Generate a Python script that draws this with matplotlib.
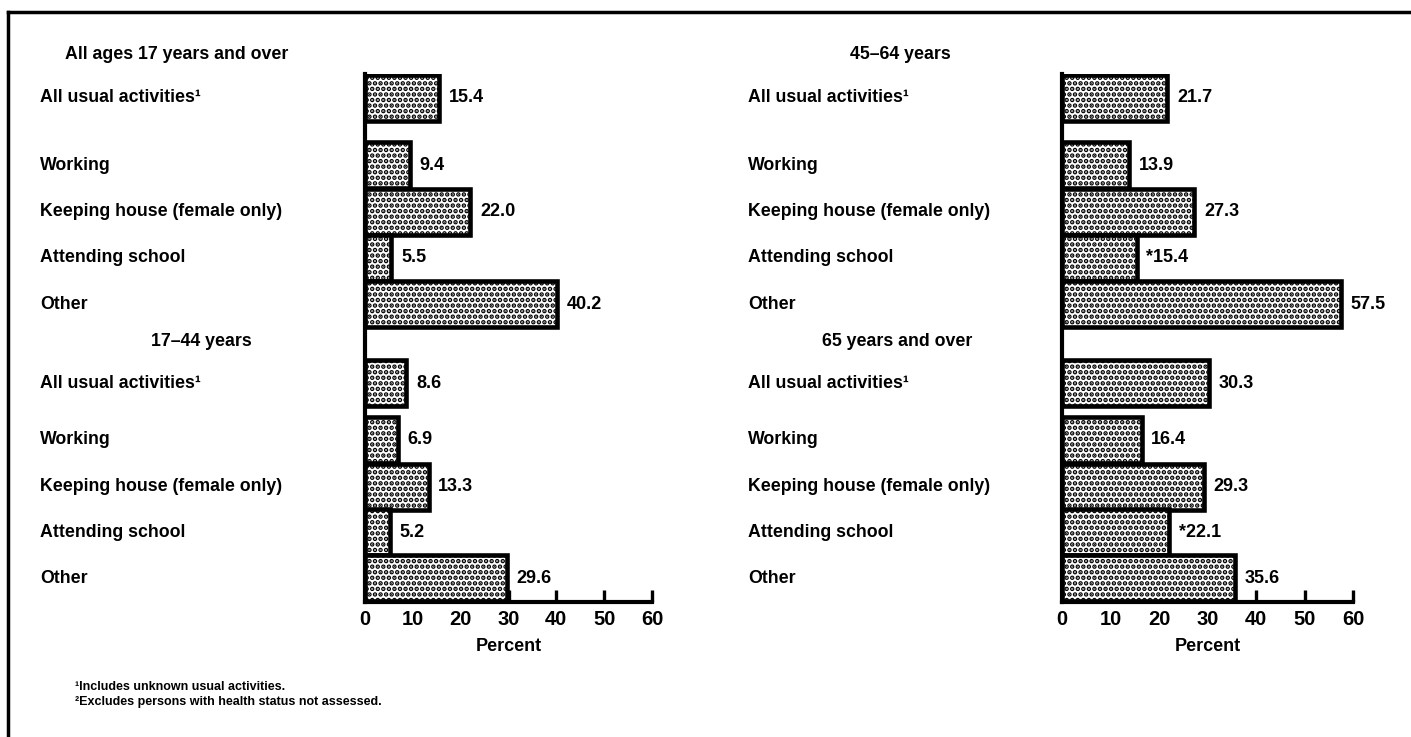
import matplotlib
matplotlib.use("Agg")
import matplotlib.pyplot as plt
import matplotlib.transforms as mtransforms
from matplotlib.lines import Line2D

plt.rcParams['font.family'] = ['Liberation Sans', 'DejaVu Sans']
plt.rcParams['font.weight'] = 'bold'
plt.rcParams['hatch.linewidth'] = 2.3

# activity categories (same in every age group)
activities = ["All usual activities\u00b9", "Working", "Keeping house (female only)",
              "Attending school", "Other"]

# percent of persons, by age group
all_ages = [15.4, 9.4, 22.0, 5.5, 40.2]
age_17_44 = [8.6, 6.9, 13.3, 5.2, 29.6]
age_45_64 = [21.7, 13.9, 27.3, 15.4, 57.5]
age_65_over = [30.3, 16.4, 29.3, 22.1, 35.6]

# values marked with an asterisk in the source
flag_45_64 = [False, False, False, True, False]
flag_65_over = [False, False, False, True, False]

left_titles = ["All ages 17 years and over", "17\u201344 years"]
right_titles = ["45\u201364 years", "65 years and over"]
ticks = [0, 10, 20, 30, 40, 50, 60]

footnotes = ["\u00b9Includes unknown usual activities.",
             "\u00b2Excludes persons with health status not assessed."]

# row positions (top to bottom), a gap after "All usual activities"
rows_top = [0, 1.46, 2.47, 3.47, 4.48]
rows_bottom = [6.2, 7.43, 8.45, 9.44, 10.43]
title_pos = [-0.95, 5.3]

fig = plt.figure(figsize=(14.11, 7.37), dpi=100)


def panel(ax_rect, label_x, title_xs, titles, groups, flags):
    ax = fig.add_axes(ax_rect)
    lab_tr = mtransforms.blended_transform_factory(fig.transFigure, ax.transData)
    for rows, vals, flg, title, tx, tpos in zip([rows_top, rows_bottom], groups, flags,
                                                titles, title_xs, title_pos):
        ax.barh(rows, vals, height=1.0, color='white', edgecolor='black',
                linewidth=3.3, hatch='...', zorder=2)
        for y, v, f, name in zip(rows, vals, flg, activities):
            ax.annotate(("*" if f else "") + f"{v:.1f}", (v, y), xytext=(7, 0),
                        textcoords='offset points', va='center', ha='left',
                        fontsize=13)
            ax.text(label_x, y, name, transform=lab_tr, va='center', ha='left',
                    fontsize=12.8)
        ax.text(tx, tpos, title, transform=lab_tr, va='center', ha='center',
                fontsize=12.8)
    ax.set_xlim(0, 60)
    ax.set_ylim(10.95, -0.52)
    ax.set_xticks(ticks)
    ax.set_yticks([])
    ax.tick_params(axis='x', direction='in', length=9, width=2.4, labelsize=14.5,
                   pad=6)
    for s in ['top', 'right']:
        ax.spines[s].set_visible(False)
    ax.spines['left'].set_linewidth(3)
    ax.spines['bottom'].set_linewidth(3)
    ax.set_xlabel("Percent", fontsize=13, fontweight='bold', labelpad=6)
    ax.patch.set_alpha(0)
    return ax


panel([0.2587, 0.1832, 0.2034, 0.7164], 0.0283, [0.125, 0.1425], left_titles,
      [all_ages, age_17_44], [[False] * 5, [False] * 5])
panel([0.7527, 0.1832, 0.2062, 0.7164], 0.530, [0.638, 0.636], right_titles,
      [age_45_64, age_65_over], [flag_45_64, flag_65_over])

for i, note in enumerate(footnotes):
    fig.text(0.053, 0.068 - i * 0.021, note, fontsize=9, fontweight='bold',
             ha='left', va='center')

# frame of the source page
fig.add_artist(Line2D([0.006, 0.006], [0.0, 0.984], color='black', linewidth=2.5,
                      transform=fig.transFigure))
fig.add_artist(Line2D([0.006, 1.0], [0.984, 0.984], color='black', linewidth=2.5,
                      transform=fig.transFigure))

fig.savefig("out.png", dpi=100)
